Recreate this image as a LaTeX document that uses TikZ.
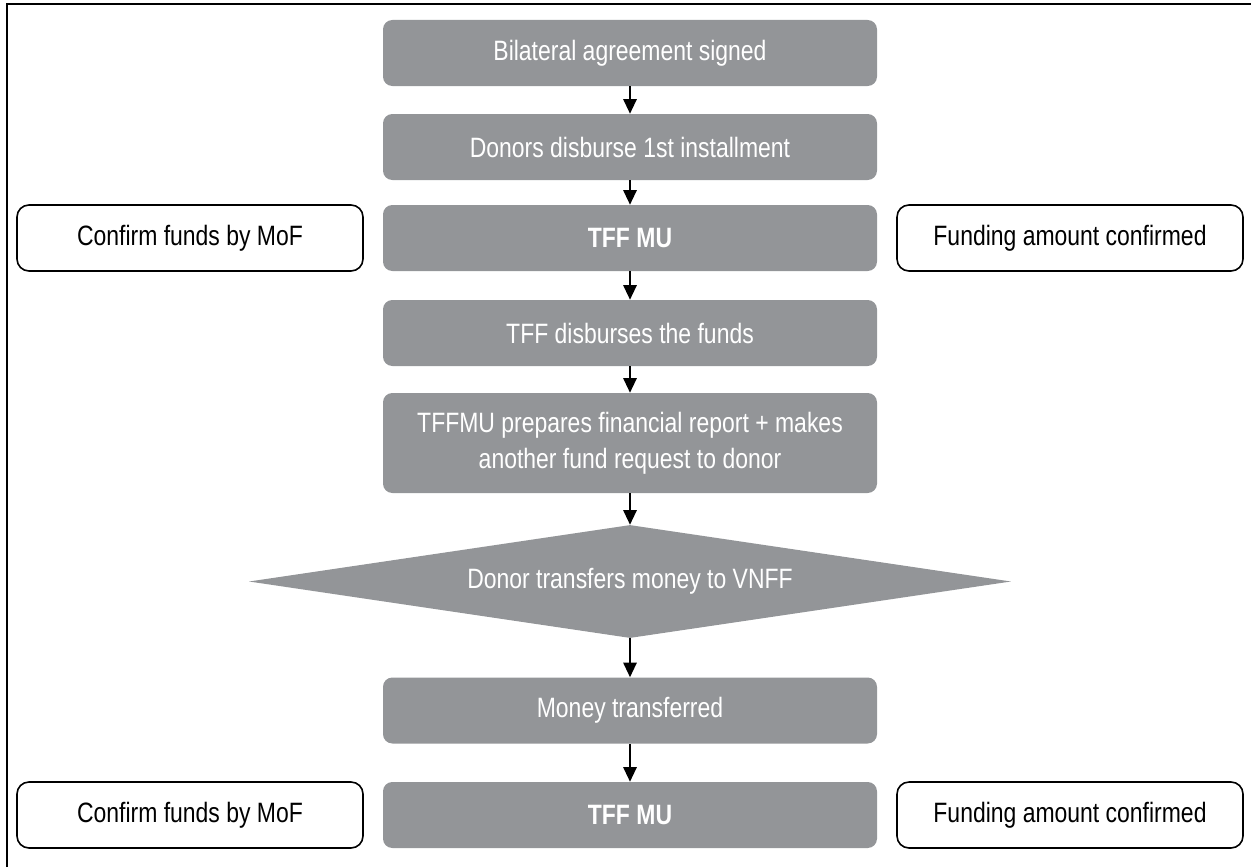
\documentclass[tikz,border=0pt]{standalone}
\usepackage{fontspec}
\setmainfont{Liberation Sans}[FakeStretch=0.82]
\usetikzlibrary{shapes.geometric,arrows.meta}
\definecolor{boxgray}{RGB}{147,149,152}
\begin{document}
\begin{tikzpicture}[x=0.75pt,y=-0.75pt,
	font=\fontsize{21}{27}\selectfont,
	stepbox/.style={rectangle,rounded corners=7pt,fill=boxgray,text=white,
		minimum width=370.5pt,minimum height=49.5pt,inner sep=0pt,align=center},
	sidebox/.style={rectangle,rounded corners=9pt,draw=black,line width=1.2pt,
		minimum width=259.5pt,minimum height=49.5pt,inner sep=0pt},
	flow/.style={line width=1.5pt,-{Triangle[length=11pt,width=10pt]}}]
	\useasboundingbox (0,0) rectangle (1251,867);
	\draw[line width=1.5pt] (7,867) -- (7,4) -- (1251,4);
	\node[stepbox] (signed) at (630,53) {Bilateral agreement signed};
	\node[stepbox] (install) at (630,147) {Donors disburse 1st installment};
	\node[stepbox,font=\fontsize{21}{27}\selectfont\bfseries] (mu1) at (630,238) {TFF MU};
	\node[stepbox] (disburse) at (630,333) {TFF disburses the funds};
	\node[stepbox,minimum height=75pt] (report) at (630,443)
		{TFFMU prepares financial report + makes\\another fund request to donor};
	\node[diamond,fill=boxgray,text=white,aspect=6.7,inner sep=0pt,
		minimum width=571.5pt,minimum height=84.75pt] (transfer) at (630,581.5)
		{Donor transfers money to VNFF};
	\node[stepbox] (money) at (630,710.5) {Money transferred};
	\node[stepbox,font=\fontsize{21}{27}\selectfont\bfseries] (mu2) at (630,815) {TFF MU};
	% side notes
	\node[sidebox] (mof1) at (190,238) {Confirm funds by MoF};
	\node[sidebox] (amount1) at (1070,238) {Funding amount confirmed};
	\node[sidebox] (mof2) at (190,815) {Confirm funds by MoF};
	\node[sidebox] (amount2) at (1070,815) {Funding amount confirmed};
	\draw[flow] (signed) -- (install);
	\draw[flow] (install) -- (mu1);
	\draw[flow] (mu1) -- (disburse);
	\draw[flow] (disburse) -- (report);
	\draw[flow] (report) -- (transfer);
	\draw[flow] (transfer) -- (money);
	\draw[flow] (money) -- (mu2);
\end{tikzpicture}
\end{document}
